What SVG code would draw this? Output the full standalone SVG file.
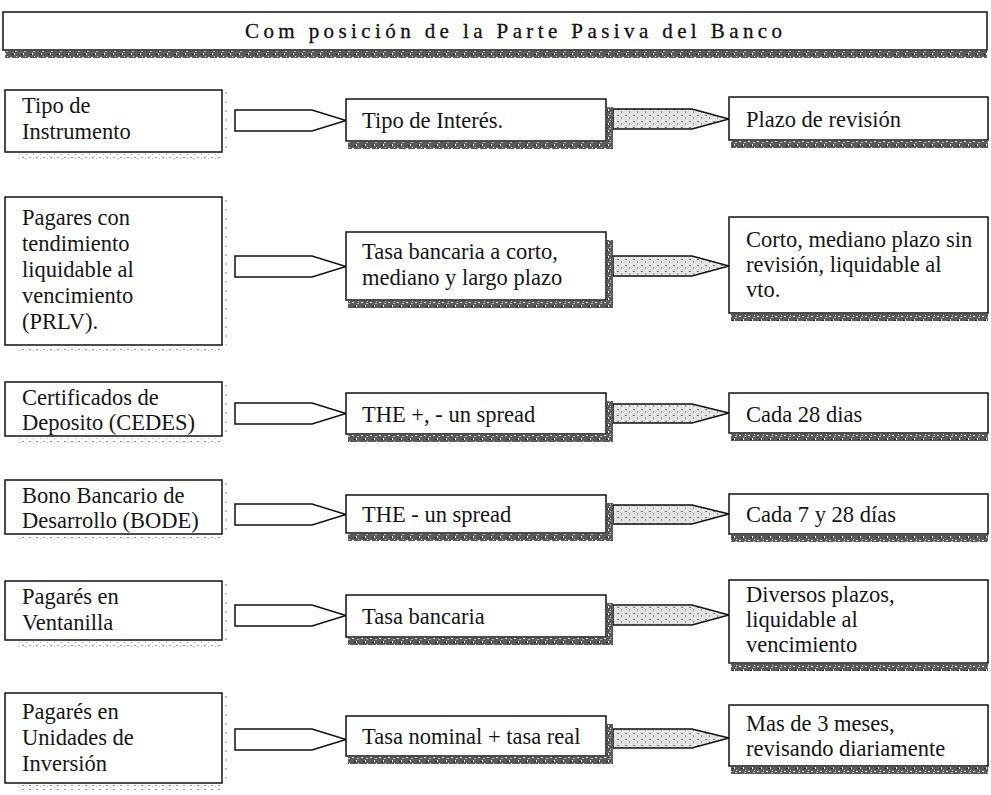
<svg xmlns="http://www.w3.org/2000/svg" width="991" height="795" viewBox="0 0 991 795">
<defs>
<pattern id="dk" width="9" height="7" patternUnits="userSpaceOnUse">
<rect width="9" height="7" fill="#5a5a5a"/>
<rect x="1" y="1" width="2" height="1" fill="#fff"/>
<rect x="5" y="4" width="1" height="2" fill="#fff"/>
<rect x="7" y="0" width="1" height="1" fill="#ddd"/>
<rect x="3" y="5" width="2" height="1" fill="#222"/>
<rect x="6" y="2" width="2" height="1" fill="#bbb"/>
</pattern>
<pattern id="lt" width="8" height="6" patternUnits="userSpaceOnUse">
<rect width="8" height="6" fill="#e2e2e2"/>
<rect x="1" y="1" width="2" height="1" fill="#777"/>
<rect x="5" y="3" width="1" height="2" fill="#999"/>
<rect x="3" y="4" width="1" height="1" fill="#fff"/>
<rect x="6" y="0" width="2" height="1" fill="#fff"/>
</pattern>
<pattern id="dot" width="7" height="4" patternUnits="userSpaceOnUse">
<rect x="1" y="1" width="2" height="1" fill="#999"/>
<rect x="5" y="2" width="1" height="1" fill="#bbb"/>
</pattern>
</defs>
<style>
.box{fill:#fff;stroke:#111;stroke-width:1.5}
.t{font-family:"Liberation Serif","Times New Roman",serif;font-size:22.5px;fill:#151515}
.title{font-family:"Liberation Serif","Times New Roman",serif;font-size:21px;fill:#111;stroke:#111;stroke-width:0.3}
.sd{fill:url(#dk)}
.sl{fill:url(#dot)}
.ha{fill:#fff;stroke:#111;stroke-width:1.5}
.sa{fill:url(#lt);stroke:#111;stroke-width:1.5}
.vd{stroke:#888;stroke-width:1;stroke-dasharray:2 7;fill:none}
</style>
<rect width="991" height="795" fill="#fff"/>

<g id="title">
<rect class="box" x="3" y="12" width="984" height="38"/>
<rect class="sd" x="5" y="51" width="982" height="7"/>
<text class="title" x="245" y="38" textLength="537" lengthAdjust="spacing">Com posición de la Parte Pasiva del Banco</text>
</g>

<g id="connectors">
<path class="ha" d="M235,110 L312,110 L346,120.5 L312,131 L235,131 Z"/>
<path class="sa" d="M613,109 L692,109 L729,119 L692,129 L613,129 Z"/>
<path class="ha" d="M235,256 L312,256 L346,266.5 L312,277 L235,277 Z"/>
<path class="sa" d="M613,256 L692,256 L729,266 L692,276 L613,276 Z"/>
<path class="ha" d="M235,403 L312,403 L346,413.5 L312,424 L235,424 Z"/>
<path class="sa" d="M613,404 L692,404 L729,413 L692,423 L613,423 Z"/>
<path class="ha" d="M235,504 L312,504 L346,514.5 L312,525 L235,525 Z"/>
<path class="sa" d="M613,505 L692,505 L729,514 L692,524 L613,524 Z"/>
<path class="ha" d="M235,605 L312,605 L346,615.5 L312,626 L235,626 Z"/>
<path class="sa" d="M613,605 L692,605 L729,615 L692,625 L613,625 Z"/>
<path class="ha" d="M235,729 L312,729 L346,739.5 L312,750 L235,750 Z"/>
<path class="sa" d="M613,729 L692,729 L729,738 L692,748 L613,748 Z"/>
</g>

<g id="r1-instrumento">
<rect class="sl" x="18" y="154" width="204" height="5"/>
<path class="vd" d="M226,92 V150"/>
<rect class="box" x="5" y="90" width="217" height="62"/>
<text class="t" x="22" y="113">Tipo de</text>
<text class="t" x="22" y="139">Instrumento</text>
</g>
<g id="r1-interes">
<rect class="sd" x="348" y="142" width="265" height="7"/>
<rect class="sd" x="607" y="107" width="6" height="42"/>
<rect class="box" x="346" y="99" width="260" height="42"/>
<text class="t" x="362" y="128">Tipo de Interés.</text>
</g>
<g id="r1-plazo">
<rect class="sd" x="731" y="141" width="257" height="7"/>
<rect class="box" x="729" y="97" width="259" height="43"/>
<text class="t" x="746" y="127">Plazo de revisión</text>
</g>

<g id="r2-prlv">
<rect class="sl" x="18" y="347" width="204" height="5"/>
<path class="vd" d="M226,200 V345"/>
<rect class="box" x="5" y="197" width="217" height="148"/>
<text class="t" x="22" y="225">Pagares con</text>
<text class="t" x="22" y="251">tendimiento</text>
<text class="t" x="22" y="277">liquidable al</text>
<text class="t" x="22" y="303">vencimiento</text>
<text class="t" x="22" y="329">(PRLV).</text>
</g>
<g id="r2-tasa">
<rect class="sd" x="348" y="301" width="265" height="7"/>
<rect class="sd" x="607" y="240" width="6" height="68"/>
<rect class="box" x="346" y="232" width="260" height="68"/>
<text class="t" x="362" y="259">Tasa bancaria a corto,</text>
<text class="t" x="362" y="285">mediano y largo plazo</text>
</g>
<g id="r2-plazo">
<rect class="sd" x="731" y="314" width="257" height="7"/>
<rect class="box" x="729" y="217" width="259" height="96"/>
<text class="t" x="746" y="247">Corto, mediano plazo sin</text>
<text class="t" x="746" y="272">revisión, liquidable al</text>
<text class="t" x="746" y="297">vto.</text>
</g>

<g id="r3-cedes">
<rect class="sl" x="18" y="438" width="204" height="5"/>
<path class="vd" d="M226,385 V434"/>
<rect class="box" x="5" y="382" width="217" height="54"/>
<text class="t" x="22" y="405">Certificados de</text>
<text class="t" x="22" y="430">Deposito (CEDES)</text>
</g>
<g id="r3-tasa">
<rect class="sd" x="348" y="435" width="265" height="7"/>
<rect class="sd" x="607" y="401" width="6" height="41"/>
<rect class="box" x="346" y="393" width="260" height="41"/>
<text class="t" x="362" y="422">THE +, - un spread</text>
</g>
<g id="r3-plazo">
<rect class="sd" x="731" y="434" width="257" height="7"/>
<rect class="box" x="729" y="393" width="259" height="40"/>
<text class="t" x="746" y="422">Cada 28 dias</text>
</g>

<g id="r4-bode">
<rect class="sl" x="18" y="536" width="204" height="5"/>
<path class="vd" d="M226,483 V533"/>
<rect class="box" x="5" y="480" width="217" height="54"/>
<text class="t" x="22" y="503">Bono Bancario de</text>
<text class="t" x="22" y="528">Desarrollo (BODE)</text>
</g>
<g id="r4-tasa">
<rect class="sd" x="348" y="534" width="265" height="7"/>
<rect class="sd" x="607" y="503" width="6" height="38"/>
<rect class="box" x="346" y="495" width="260" height="38"/>
<text class="t" x="362" y="522">THE - un spread</text>
</g>
<g id="r4-plazo">
<rect class="sd" x="731" y="535" width="257" height="7"/>
<rect class="box" x="729" y="494" width="259" height="40"/>
<text class="t" x="746" y="522">Cada 7 y 28 días</text>
</g>

<g id="r5-ventanilla">
<rect class="sl" x="18" y="642" width="204" height="5"/>
<path class="vd" d="M226,584 V640"/>
<rect class="box" x="5" y="581" width="217" height="59"/>
<text class="t" x="22" y="604">Pagarés en</text>
<text class="t" x="22" y="630">Ventanilla</text>
</g>
<g id="r5-tasa">
<rect class="sd" x="348" y="638" width="265" height="7"/>
<rect class="sd" x="607" y="603" width="6" height="42"/>
<rect class="box" x="346" y="595" width="260" height="42"/>
<text class="t" x="362" y="624">Tasa bancaria</text>
</g>
<g id="r5-plazo">
<rect class="sd" x="731" y="664" width="257" height="7"/>
<rect class="box" x="729" y="580" width="259" height="83"/>
<text class="t" x="746" y="602">Diversos plazos,</text>
<text class="t" x="746" y="627">liquidable al</text>
<text class="t" x="746" y="652">vencimiento</text>
</g>

<g id="r6-udis">
<rect class="sl" x="18" y="785" width="204" height="5"/>
<path class="vd" d="M226,696 V780"/>
<rect class="box" x="5" y="693" width="217" height="90"/>
<text class="t" x="22" y="719">Pagarés en</text>
<text class="t" x="22" y="745">Unidades de</text>
<text class="t" x="22" y="771">Inversión</text>
</g>
<g id="r6-tasa">
<rect class="sd" x="348" y="757" width="265" height="7"/>
<rect class="sd" x="607" y="724" width="6" height="40"/>
<rect class="box" x="346" y="716" width="260" height="40"/>
<text class="t" x="362" y="744">Tasa nominal + tasa real</text>
</g>
<g id="r6-plazo">
<rect class="sd" x="731" y="767" width="257" height="7"/>
<rect class="box" x="729" y="705" width="259" height="61"/>
<text class="t" x="746" y="731">Mas de 3 meses,</text>
<text class="t" x="746" y="756">revisando diariamente</text>
</g>
</svg>
